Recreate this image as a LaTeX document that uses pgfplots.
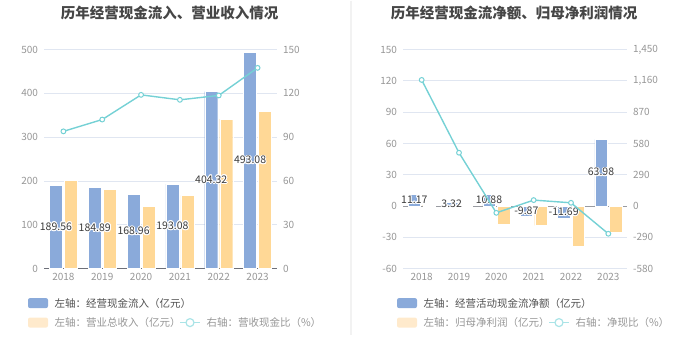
\documentclass[border=0pt]{standalone}
\usepackage{pgfplots}
\pgfplotsset{compat=1.18}
\usepackage{fontspec}
\setmainfont{Noto Sans CJK SC}
\usepackage{contour}
\contourlength{0.9pt}
\contournumber{16}
\definecolor{barblue}{RGB}{138,170,218}
\definecolor{baryel}{RGB}{255,216,150}
\definecolor{yelpale}{RGB}{255,234,204}
\definecolor{linecol}{RGB}{117,209,213}
\definecolor{linepale}{RGB}{170,228,231}
\definecolor{gridcol}{RGB}{224,230,241}
\definecolor{tickcol}{RGB}{150,150,150}
\definecolor{titlecol}{RGB}{70,70,70}
\definecolor{axiscol}{RGB}{110,112,121}
\definecolor{labcol}{RGB}{60,60,60}
\definecolor{sepcol}{RGB}{242,242,242}

\pgfplotsset{
  common/.style={
    scale only axis, height=219pt,
    xmin=-0.5, xmax=5.5,
    xtick={0,1,2,3,4,5},
    xticklabels={2018,2019,2020,2021,2022,2023},
    major tick length=0pt,
    tick label style={font=\fontsize{10}{12}\selectfont, text=tickcol},
    /pgf/number format/assume math mode=true,
    anchor=south west,
  },
  barlab/.style={
    draw=none, mark=none,
    point meta=explicit symbolic,
    nodes near coords={\contour{white}{\pgfplotspointmeta}},
    every node near coord/.style={anchor=center, inner sep=0pt,
      font=\fontsize{10.5}{12}\selectfont, text=labcol},
  },
  ratioline/.style={
    color=linecol, line width=1.4pt,
    mark=*, mark size=2.4pt,
    mark options={fill=white, draw=linecol, line width=1pt},
  },
}

\begin{document}
\begin{tikzpicture}[x=1pt,y=1pt]
\path (0,0) rectangle (699,359);
\draw[sepcol, line width=1.2pt] (351,359) -- (351,25);

% ---------------- left chart ----------------
\node[font=\bfseries\fontsize{14.5}{16}\selectfont, text=titlecol] at (169.5,347) {历年经营现金流入、营业收入情况};

\begin{axis}[common, at={(44pt,91pt)}, width=233pt,
  ymin=0, ymax=500, ytick={0,100,200,300,400,500},
  axis y line*=left, axis x line*=bottom,
  y axis line style={draw=none},
  x axis line style={draw=axiscol, line width=0.8pt},
  ymajorgrids, grid style={gridcol, line width=0.8pt},
  yticklabel style={xshift=-2.5pt},
  xticklabel style={yshift=-1.5pt},
]
\addplot[ybar, bar width=13pt, bar shift=-7.5pt, fill=barblue, draw=white, line width=0.4pt]
  coordinates {(0,189.56) (1,184.89) (2,168.96) (3,193.08) (4,404.32) (5,493.08)};
\addplot[ybar, bar width=13pt, bar shift=7.5pt, fill=baryel, draw=white, line width=0.4pt]
  coordinates {(0,201.7) (1,181.0) (2,142.0) (3,167.0) (4,341.0) (5,358.5)};
\addplot[barlab] coordinates {
  (-0.193,94.78)[189.56] (0.807,92.45)[184.89] (1.807,84.48)[168.96]
  (2.807,96.54)[193.08] (3.807,202.16)[404.32] (4.807,246.54)[493.08]};
\end{axis}

\begin{axis}[common, at={(44pt,91pt)}, width=233pt,
  ymin=0, ymax=150, ytick={0,30,60,90,120,150},
  axis y line*=right, axis x line=none,
  y axis line style={draw=none},
  yticklabel style={xshift=2.5pt},
]
\addplot[ratioline] coordinates {(0,94.0) (1,102.1) (2,119.0) (3,115.6) (4,118.6) (5,137.5)};
\end{axis}

% legend left
\fill[barblue, rounded corners=2pt] (28,51.5) rectangle (48,61.5);
\node[anchor=west, font=\fontsize{10.5}{12}\selectfont, text=labcol!90] at (51,56.5) {左轴：经营现金流入（亿元）};
\fill[yelpale, rounded corners=2pt] (28,32) rectangle (48,42);
\node[anchor=west, font=\fontsize{10.5}{12}\selectfont, text=tickcol] at (51,37) {左轴：营业总收入（亿元）};
\draw[linepale, line width=1.2pt] (180,37) -- (200,37);
\draw[linepale, line width=1.2pt, fill=white] (190,37) circle (4pt);
\node[anchor=west, font=\fontsize{10.5}{12}\selectfont, text=tickcol] at (203,37) {右轴：营收现金比（\%）};

% ---------------- right chart ----------------
\node[font=\bfseries\fontsize{14.5}{16}\selectfont, text=titlecol] at (514,347) {历年经营现金流净额、归母净利润情况};

\begin{axis}[common, at={(403pt,91pt)}, width=224pt,
  ymin=-60, ymax=150, ytick={-60,-30,0,30,60,90,120,150},
  yticklabels={-60,-30,0,30,60,90,120,150},
  axis y line*=left, axis x line*=bottom,
  y axis line style={draw=none},
  x axis line style={draw=none},
  ymajorgrids, grid style={gridcol, line width=0.8pt},
  extra y ticks={0}, extra y tick labels={},
  extra y tick style={major grid style={draw=axiscol!70, line width=1pt}},
  yticklabel style={xshift=-2.5pt},
  xticklabel style={yshift=-1.5pt},
]
\addplot[ybar, bar width=12.5pt, bar shift=-7.3pt, fill=barblue, draw=white, line width=0.4pt]
  coordinates {(0,11.17) (1,3.32) (2,10.88) (3,-9.87) (4,-11.69) (5,63.98)};
\addplot[ybar, bar width=12.5pt, bar shift=7.3pt, fill=baryel, draw=white, line width=0.4pt]
  coordinates {(0,0.95) (1,0.67) (2,-17.5) (3,-18.5) (4,-38.3) (5,-24.9)};
\addplot[barlab] coordinates {
  (-0.196,5.59)[11.17] (0.804,1.66)[3.32] (1.804,5.44)[10.88]
  (2.804,-4.94)[-9.87] (3.804,-5.85)[-11.69] (4.804,31.99)[63.98]};
\end{axis}

\begin{axis}[common, at={(403pt,91pt)}, width=224pt,
  ymin=-580, ymax=1450, ytick={-580,-290,0,290,580,870,1160,1450},
  yticklabels={-580,-290,0,290,580,870,{1,160},{1,450}},
  axis y line*=right, axis x line=none,
  y axis line style={draw=none},
  yticklabel style={xshift=2.5pt},
]
\addplot[ratioline] coordinates {(0,1169) (1,494) (2,-63) (3,55) (4,30) (5,-257)};
\end{axis}

% legend right
\fill[barblue, rounded corners=2pt] (397,51.5) rectangle (417,61.5);
\node[anchor=west, font=\fontsize{10.5}{12}\selectfont, text=labcol!90] at (420,56.5) {左轴：经营活动现金流净额（亿元）};
\fill[yelpale, rounded corners=2pt] (397,32) rectangle (417,42);
\node[anchor=west, font=\fontsize{10.5}{12}\selectfont, text=tickcol] at (420,37) {左轴：归母净利润（亿元）};
\draw[linepale, line width=1.2pt] (549,37) -- (569,37);
\draw[linepale, line width=1.2pt, fill=white] (559,37) circle (4pt);
\node[anchor=west, font=\fontsize{10.5}{12}\selectfont, text=tickcol] at (572,37) {右轴：净现比（\%）};
\end{tikzpicture}
\end{document}
